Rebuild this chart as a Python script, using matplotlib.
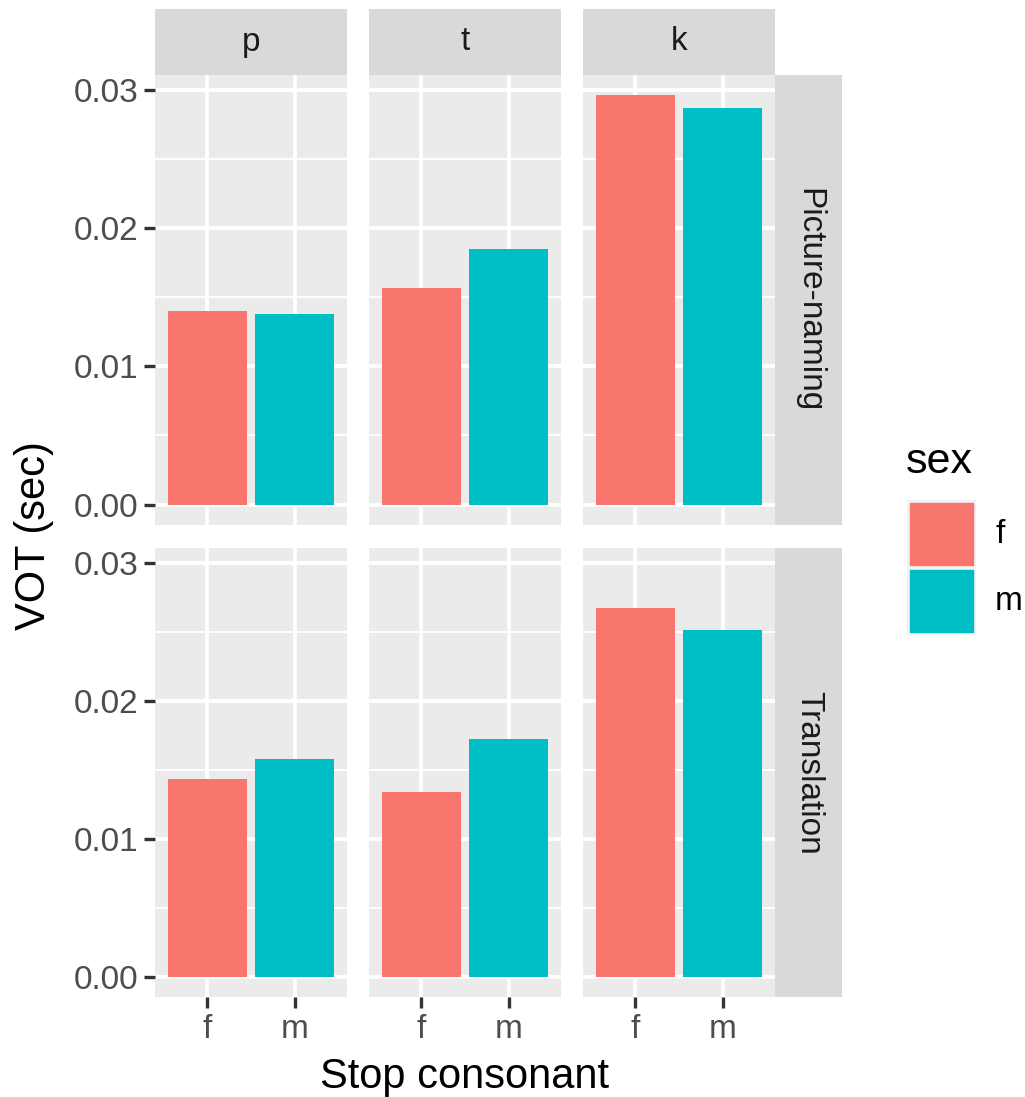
import numpy as np
import matplotlib.pyplot as plt

plt.rcParams['font.family'] = ['Liberation Sans', 'DejaVu Sans']

# data
consonants = ['p', 't', 'k']
tasks = ['Picture-naming', 'Translation']
sexes = ['f', 'm']
colors = ['#F8766D', '#00BFC4']
vot = {
    'Picture-naming': {'p': [0.0140, 0.0138], 't': [0.0157, 0.0185], 'k': [0.0296, 0.0287]},
    'Translation':    {'p': [0.0143, 0.0158], 't': [0.0134, 0.0172], 'k': [0.0267, 0.0251]},
}
yticks = [0.00, 0.01, 0.02, 0.03]
ytick_labels = ['0.00', '0.01', '0.02', '0.03']

W, H = 1025, 1097
fig = plt.figure(figsize=(W / 100, H / 100), dpi=100)

def box(x0, y0, x1, y1):
    return [x0 / W, 1 - y1 / H, (x1 - x0) / W, (y1 - y0) / H]

col_x = [(155, 347), (369, 561), (583, 775)]
row_y = [(75, 525), (548, 997)]
ymax_all = max(max(v) for t in vot.values() for v in t.values())
pad = ymax_all * 0.05

small = 24
big = 30

for r, task in enumerate(tasks):
    for c, cons in enumerate(consonants):
        x0, x1 = col_x[c]
        y0, y1 = row_y[r]
        ax = fig.add_axes(box(x0, y0, x1, y1))
        ax.set_facecolor('#EBEBEB')
        ax.bar([1, 2], vot[task][cons], width=0.9, color=colors, zorder=3)
        ax.set_xlim(0.4, 2.6)
        ax.set_ylim(-pad, ymax_all + pad)
        ax.set_yticks(yticks)
        ax.set_yticks([0.005, 0.015, 0.025], minor=True)
        ax.set_xticks([1, 2])
        ax.grid(True, which='major', color='white', lw=2.8, zorder=1)
        ax.grid(True, which='minor', axis='y', color='white', lw=1.4, zorder=1)
        for s in ax.spines.values():
            s.set_visible(False)
        ax.tick_params(which='minor', length=0)
        ax.tick_params(which='major', length=8, width=2.4, color='#333333',
                       labelsize=small, labelcolor='#4D4D4D', pad=4)
        if c == 0:
            ax.set_yticklabels(ytick_labels)
        else:
            ax.tick_params(axis='y', length=0, labelleft=False)
        if r == 1:
            ax.set_xticklabels(sexes)
        else:
            ax.tick_params(axis='x', length=0, labelbottom=False)
        # top strips
        if r == 0:
            sax = fig.add_axes(box(x0, 9, x1, 75))
            sax.set_facecolor('#D9D9D9')
            sax.set_xticks([]); sax.set_yticks([])
            for s in sax.spines.values():
                s.set_visible(False)
            sax.text(0.5, 0.5, cons, ha='center', va='center', fontsize=small,
                     color='#1A1A1A', transform=sax.transAxes)
    # right strip
    y0, y1 = row_y[r]
    rax = fig.add_axes(box(775, y0, 842, y1))
    rax.set_facecolor('#D9D9D9')
    rax.set_xticks([]); rax.set_yticks([])
    for s in rax.spines.values():
        s.set_visible(False)
    rax.text(0.5, 0.5, task, ha='center', va='center', fontsize=small, rotation=-90,
             color='#1A1A1A', transform=rax.transAxes)

# axis titles
fig.text(465 / W, 1 - 1077 / H, 'Stop consonant', ha='center', va='center', fontsize=big)
fig.text(34 / W, 1 - 536 / H, 'VOT (sec)', ha='center', va='center', fontsize=big, rotation=90)

# legend
fig.text(906 / W, 1 - 462 / H, 'sex', ha='left', va='center', fontsize=big + 1)
for i, (lab, col) in enumerate(zip(sexes, colors)):
    ky0 = 500 + i * 67.5
    kax = fig.add_axes(box(907, ky0, 976, ky0 + 67.5))
    kax.set_facecolor('#F2F2F2')
    kax.set_xlim(0, 1); kax.set_ylim(0, 1)
    kax.set_xticks([]); kax.set_yticks([])
    for s in kax.spines.values():
        s.set_visible(False)
    kax.add_patch(plt.Rectangle((0.04, 0.04), 0.92, 0.92, color=col))
    fig.text(995 / W, 1 - (ky0 + 34) / H, lab, ha='left', va='center', fontsize=small)

fig.savefig('out.png', dpi=100)
